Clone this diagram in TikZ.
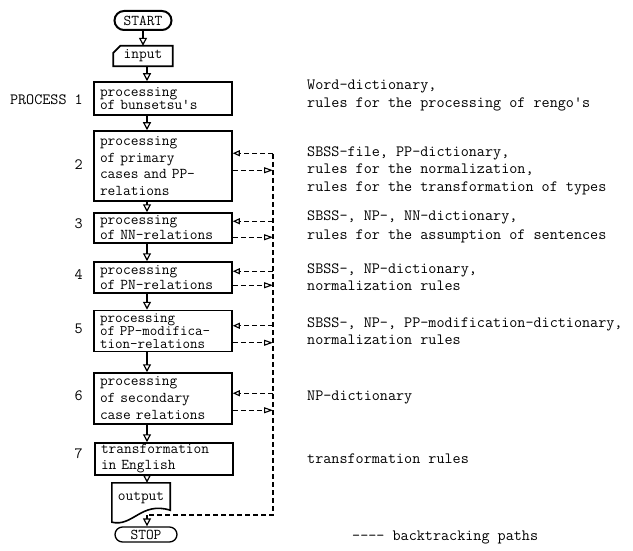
\documentclass[tikz,border=0pt]{standalone}
\usetikzlibrary{arrows.meta,shapes.misc,calc}
\newcommand\boxfnt[1]{\ttfamily\fontsize{15}{#1}\selectfont}
\begin{document}
\begin{tikzpicture}[x=1pt,y=-1pt,
  every node/.style={inner sep=0pt},
  proc/.style={draw,line width=1.5pt,rectangle,minimum width=138pt,text width=126pt,align=left},
  term/.style={draw,rounded rectangle,font=\boxfnt{15}},
  flow/.style={line width=1.3pt,-{Triangle[open,length=8pt,width=8pt,line width=1.2pt]}},
  back/.style={line width=1.1pt,dash pattern=on 5pt off 3pt},
  backl/.style={back,-{Triangle[open,length=7pt,width=6pt,line width=1.1pt]}},
  backr/.style={back,-{Triangle[open,length=9pt,width=6pt,line width=1.1pt]}},
  rt/.style={anchor=base west,font=\ttfamily\fontsize{15.7}{17}\selectfont},
  lt/.style={anchor=base east,font=\ttfamily\fontsize{15.7}{17}\selectfont}]
\useasboundingbox (0,0) rectangle (633,551);
\fill[white] (0,0) rectangle (633,551);

% terminals and I/O
\node[term,line width=2pt,minimum width=57pt,minimum height=19pt] (start) at (143,20.5) {START};
\node[minimum width=59pt,minimum height=20pt,font=\boxfnt{15}] (in) at (143,56) {input};
\draw[line width=1.8pt] ($(in.north west)+(7,0)$) -- (in.north east) -- (in.south east) -- (in.south west) -- ($(in.north west)+(0,7)$) -- cycle;

% process boxes
\node[proc,minimum height=33pt,font=\boxfnt{13.5}] (b1) at (163,98.5) {processing\\of bunsetsu's};
\node[proc,minimum height=70pt,font=\boxfnt{16.5}] (b2) at (163,166) {processing\\of primary\\cases and PP-\\relations};
\node[proc,minimum height=30pt,font=\boxfnt{15}] (b3) at (163,228) {processing\\of NN-relations};
\node[proc,minimum height=31pt,font=\boxfnt{15}] (b4) at (163,277.5) {processing\\of PN-relations};
\node[proc,minimum height=41pt,font=\ttfamily\fontsize{14.6}{13.2}\selectfont] (b5) at (163,331) {processing\\of PP-modifica-\\tion-relations};
\node[proc,minimum height=51pt,font=\boxfnt{17}] (b6) at (163,398.5) {processing\\of secondary\\case relations};
\node[proc,minimum height=32pt,font=\boxfnt{16}] (b7) at (164,459) {transformation\\in English};

% output document
\node[minimum width=58pt,minimum height=30pt,font=\boxfnt{15}] (out) at (141,498) {output};
\draw[line width=1.6pt] (out.north west) -- (out.north east) -- ($(out.south east)+(0,-3)$)
  .. controls ($(out.south)+(0,-12)$) and ($(out.south)+(-8,14)$) .. ($(out.south west)+(0,9)$) -- cycle;
\coordinate (outb) at (147,515);
\node[term,line width=1.3pt,minimum width=62pt,minimum height=15pt] (stop) at (146,534.5) {STOP};

% flow
\coordinate (fl) at (147,0);
\draw[flow] (start.south) -- (in.north);
\draw[flow] (in.south -| fl) -- (b1.north -| fl);
\draw[flow] (b1.south -| fl) -- (b2.north -| fl);
\draw[flow] (b2.south -| fl) -- (b3.north -| fl);
\draw[flow] (b3.south -| fl) -- (b4.north -| fl);
\draw[flow] (b4.south -| fl) -- (b5.north -| fl);
\draw[flow] (b5.south -| fl) -- (b6.north -| fl);
\draw[flow] (b6.south -| fl) -- (b7.north -| fl);
\draw[flow] (b7.south -| fl) -- (out.north -| fl);
\draw[flow] (outb) -- (stop.north -| outb);

% backtracking paths
\coordinate (vt) at (273,154);
\coordinate (vb) at (273,515);
\draw[back] (vt) -- (vb) -- (outb);
\foreach \b/\u/\l in {b2/23/40, b3/9/25, b4/10/24, b5/16/33, b6/21/38} {
  \coordinate (\b u) at ($(\b.north east)+(0,\u)$);
  \coordinate (\b l) at ($(\b.north east)+(0,\l)$);
  \draw[backl] (\b u -| vt) -- (\b u);
  \draw[backr] (\b l) -- (\b l -| vt);
}

% left labels
\node[lt] (p1) at (83,105) {PROCESS 1};
\node[lt] (p2) at (83,170) {2};
\node[lt] (p3) at (83,229) {3};
\node[lt] (p4) at (83,279) {4};
\node[lt] (p5) at (83,333) {5};
\node[lt] (p6) at (83,400) {6};
\node[lt] (p7) at (83,458) {7};

% right texts
\node[rt] (t1a) at (307,90) {Word-dictionary,};
\node[rt] (t1b) at (307,108) {rules for the processing of rengo's};
\node[rt] (t2a) at (307,157) {SBSS-file, PP-dictionary,};
\node[rt] (t2b) at (307,174) {rules for the normalization,};
\node[rt] (t2c) at (307,191) {rules for the transformation of types};
\node[rt] (t3a) at (307,220) {SBSS-, NP-, NN-dictionary,};
\node[rt] (t3b) at (307,239) {rules for the assumption of sentences};
\node[rt] (t4a) at (307,273) {SBSS-, NP-dictionary,};
\node[rt] (t4b) at (307,290) {normalization rules};
\node[rt] (t5a) at (307,327) {SBSS-, NP-, PP-modification-dictionary,};
\node[rt] (t5b) at (307,344) {normalization rules};
\node[rt] (t6a) at (307,400) {NP-dictionary};
\node[rt] (t7a) at (307,463) {transformation rules};
\node[rt] (leg) at (352,540) {---- backtracking paths};
\end{tikzpicture}
\end{document}
